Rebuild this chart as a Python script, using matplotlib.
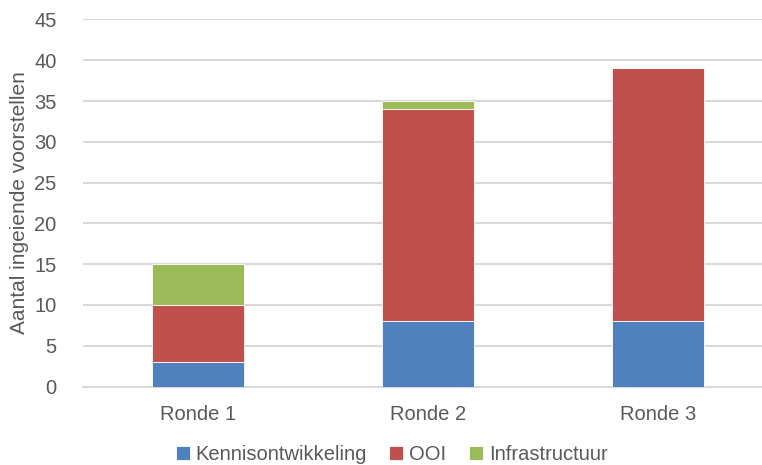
import numpy as np
import matplotlib
matplotlib.use('Agg')
import matplotlib.pyplot as plt

plt.rcParams['font.family'] = ['Liberation Sans', 'DejaVu Sans']

# data
rondes = ['Ronde 1', 'Ronde 2', 'Ronde 3']
kennis = [3, 8, 8]
ooi = [7, 26, 31]
infra = [5, 1, 0]
series = ['Kennisontwikkeling', 'OOI', 'Infrastructuur']
colors = ['#4F81BD', '#C0504D', '#9BBB59']
grey = '#595959'

fig = plt.figure(figsize=(7.62, 4.65), dpi=100)
# axes right edge extends slightly past the figure like the cropped original
ax = fig.add_axes([83/762, 1 - 386.5/465, 690/762, (386.5 - 19.5)/465])

x = np.arange(len(rondes))
bottom = np.zeros(len(rondes))
for vals, name, c in zip([kennis, ooi, infra], series, colors):
    ax.bar(x, vals, 0.4, bottom=bottom, color=c, label=name,
           edgecolor='white', linewidth=0.6, zorder=3)
    bottom += np.array(vals)

ax.set_xlim(-0.5, 2.5)
ax.set_ylim(0, 45)
ax.set_yticks(range(0, 46, 5))
ax.set_xticks(x)
ax.set_xticklabels(rondes)
ax.yaxis.grid(True, color='#D9D9D9', linewidth=1.5, zorder=0)
ax.set_axisbelow(True)
for s in ['top', 'right', 'left']:
    ax.spines[s].set_visible(False)
ax.spines['bottom'].set_color('#D9D9D9')
ax.spines['bottom'].set_linewidth(1.5)
ax.tick_params(axis='both', length=0, colors=grey, labelsize=14.5)
ax.tick_params(axis='y', pad=19)
ax.tick_params(axis='x', pad=13)
ax.set_ylabel('Aantal ingeiende voorstellen', color=grey, fontsize=15, labelpad=4)

leg = fig.legend(loc='lower center', bbox_to_anchor=(0.514, -0.036), ncol=3, frameon=False,
                 fontsize=14.5, handlelength=0.7, handleheight=0.7, handletextpad=0.3,
                 columnspacing=1.1)
for t in leg.get_texts():
    t.set_color(grey)

fig.savefig('out.png', dpi=100)
